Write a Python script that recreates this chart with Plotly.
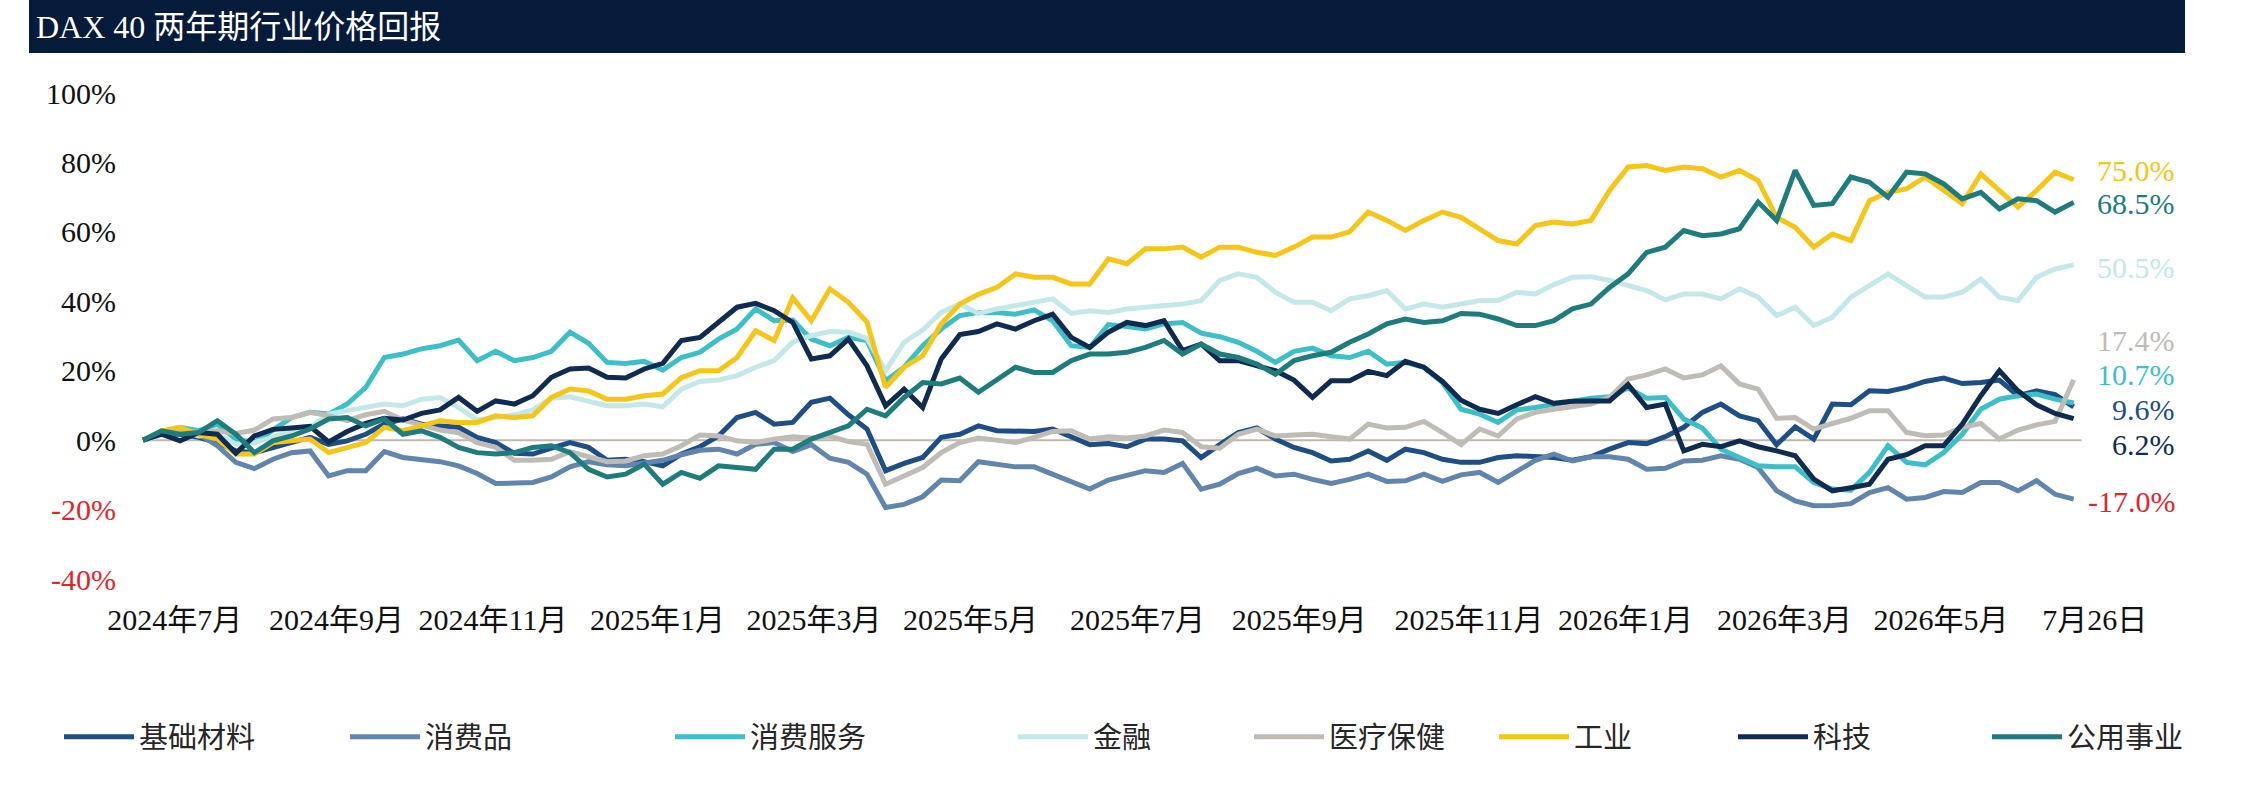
import pandas as pd
import plotly.graph_objects as go

# ---------------- data (percent price return, weekly) ----------------
START_DATE = "2024-07-26"
N_POINTS = 105

NAMES = ["基础材料", "消费品", "消费服务", "金融", "医疗保健", "工业", "科技", "公用事业"]

basic_materials = [
    0, 1.7, 1.7, 0.8, -0.7, -3.1, -3.6, -2.1, -0.7, 0.8, -1.2, -0.2, 1.7, 4.6, 6.1, 4.6, 4.1, 3.7,
    0.8, -0.7, -3.8, -4, -2.3, -0.7, -2.1, -5.8, -5.5, -6.2, -7.4, -4, -1.9, 1.2, 6.5, 8, 4.6,
    5.1, 10.9, 12.1, 7.3, 3.2, -8.8, -6.7, -5, 0.8, 1.7, 4.1, 2.7, 2.7, 2.5, 3.2, 1, -1.3,
    -1, -1.9, 0.3, 0.3, -0.2, -5, -1.3, 2.2, 3.5, 0.3, -2.1, -3.6, -6, -5.5, -3.1, -5.8, -2.6, -3.6,
    -5.5, -6.4, -6.4, -5, -4.5, -4.8, -5, -5.8, -4.8, -2.6, -0.7, -1, 1, 3.7, 8, 10.4, 7,
    5.6, -1.3, 3.8, 0.3, 10.4, 10.2, 14.2, 14, 15.2, 16.9, 17.9, 16.3, 16.6, 17.3, 12.8, 14.2, 13.1, 9.6,
]
consumer_goods = [
    0, 1.7, 2.2, 1.7, -1.6, -6.4, -8.2, -5.5, -3.6, -3.1, -10.3, -8.8, -8.8, -3.3, -5, -5.5, -6.2, -7.4,
    -9.6, -12.5, -12.2, -12.2, -10.6, -7.7, -6.2, -7.1, -7.4, -6.5, -5.8, -4.2, -2.9, -2.6, -4, -1.2, -0.7,
    -3.3, -1.3, -5.2, -6.4, -9.8, -19.4, -18.5, -16.3, -11.5, -11.7, -6.2, -6.9, -7.7, -7.7, -9.8, -11.7, -14.1,
    -11.5, -10.3, -8.8, -9.3, -6.7, -14.1, -12.7, -9.6, -8.1, -10.3, -9.8, -11.3, -12.5, -11.3, -9.8, -11.9, -11.7, -9.8,
    -11.9, -10, -9.3, -12.2, -8.8, -5.8, -4, -6, -4.8, -4.8, -5.5, -8.4, -8.1, -6, -5.8, -4.5, -5.5,
    -7.9, -14.6, -17.5, -18.9, -18.8, -18.3, -15.1, -13.7, -17, -16.5, -14.8, -15.1, -12.2, -12.2, -14.6, -11.7, -15.6, -17.0,
]
consumer_services = [
    0, 2.2, 3.7, 2.7, 4.6, 0.3, -0.7, 2.7, 6.5, 8, 7.5, 10.4, 15.2, 23.8, 24.8, 26.3, 27.2, 28.8,
    22.9, 25.6, 22.9, 23.8, 25.6, 31.1, 27.9, 22.4, 22.1, 22.7, 20.2, 23.8, 25.3, 29.1, 32, 37.8, 34.4,
    34.6, 29.1, 27.2, 29.6, 28.7, 17.1, 21, 27.2, 32, 35.9, 36.8, 36.8, 36.3, 37.5, 34.4, 27.2, 26.7,
    33.3, 32.7, 32, 33.5, 33.9, 30.8, 29.8, 28.2, 25.6, 22.4, 25.6, 26.5, 24.3, 23.8, 25.6, 21.9, 22.4, 21,
    16.6, 8.9, 7.5, 5.1, 8.7, 9.4, 10.2, 11.3, 12.1, 12.5, 15, 12.1, 12.3, 6.1, 3.5, -2.6, -5,
    -7.4, -7.7, -7.7, -12.2, -14.1, -14.4, -9.3, -1.6, -6.4, -7.1, -3.6, 1.7, 8.9, 11.8, 12.8, 13.3, 11.8, 10.7,
]
financials = [
    0, 1.2, 2.7, 1.2, 1.7, -1.2, -0.7, 0.8, 2.7, 3.7, 7.5, 8.5, 9.4, 10.4, 9.9, 11.8, 12.3, 9.4,
    5.8, 6.7, 7.3, 8.7, 12.1, 12.5, 11.3, 9.9, 9.9, 10.4, 9.6, 14.7, 16.9, 17.3, 18.6, 21, 22.9,
    28.2, 30.1, 31.3, 31.1, 29.3, 20, 28.2, 31.7, 36.8, 39.2, 36.5, 37.8, 38.8, 39.7, 40.7, 36.5, 37.3,
    36.8, 37.8, 38.3, 38.8, 39.2, 40.2, 46, 47.9, 46.9, 42.6, 39.7, 39.7, 37.3, 40.7, 41.6, 43.1, 37.8, 39.2,
    38.3, 39.2, 40.2, 40.2, 42.6, 42.1, 44.8, 46.9, 47.1, 46, 44.5, 43.1, 40.4, 42.1, 42.1, 40.7, 43.6,
    41.2, 35.9, 38.3, 33, 35.4, 41.2, 44.5, 47.9, 44.5, 41.2, 41.2, 42.6, 46.4, 41.2, 40.2, 46.9, 49.3, 50.5,
]
healthcare = [
    0, 1.7, 2.7, 2.2, 2.7, 1.9, 2.9, 6.1, 6.5, 8, 7, 5.6, 7.3, 8.3, 5.8, 4.4, 2.9, 2.1,
    -0.7, -2.1, -5.8, -5.8, -5.5, -3.3, -4.8, -6.2, -6, -4.5, -4, -1.6, 1.5, 1.2, -0.2, -0.7, 0.3,
    1, 0.6, 1.2, -0.4, -1.2, -12.7, -10.3, -7.9, -3.6, -0.7, 0.6, 0, -0.7, 0.8, 2.5, 2.7, 0.3,
    1, 0.6, 1.2, 2.9, 2.2, -1.9, -2.3, 1.7, 3.2, 1.2, 1.5, 1.7, 1, 0.3, 4.6, 3.5, 3.7, 5.4,
    2.2, -1.3, 3.2, 1.2, 6.1, 8, 8.9, 9.7, 10.4, 12.3, 17.6, 18.8, 20.5, 17.9, 18.8, 21.4, 16.2,
    14.7, 6.3, 6.5, 3.2, 4.8, 6.3, 8.5, 8.5, 2.2, 1.3, 1.5, 3.7, 4.8, 0.3, 2.9, 4.4, 5.4, 17.4,
]
industrials = [
    0, 2.7, 3.7, 1.7, 0.3, -4, -4, -0.7, -0.2, 0.3, -3.6, -2, -0.7, 3.7, 2.7, 4.1, 5.6, 5.1,
    5.1, 7, 6.5, 7, 12.3, 14.7, 14.2, 11.8, 11.8, 12.8, 13.3, 18, 20, 20, 23.8, 31.5, 28.7,
    41, 34.4, 43.6, 39.7, 34, 15.2, 21, 24.3, 33.5, 39.2, 42, 44, 47.9, 46.9, 46.9, 45, 45,
    52.2, 50.8, 55.1, 55.1, 55.6, 52.7, 55.6, 55.6, 54.1, 53.2, 55.6, 58.5, 58.5, 60, 65.7, 63.3, 60.4, 63.3,
    65.7, 64.2, 60.9, 57.5, 56.5, 61.8, 62.8, 62.3, 63.3, 71.9, 78.7, 79.1, 77.7, 78.7, 78.2, 75.8, 77.7,
    74.8, 64.2, 61.3, 55.6, 59.4, 57.5, 69, 71.4, 72.4, 75.8, 71.9, 68.1, 76.7, 71.9, 67.1, 71.9, 77.2, 75.0,
]
technology = [
    0, 1.7, -0.2, 2.2, 1.7, -3.8, 1.2, 3.1, 3.5, 4, -0.5, 2.5, 4.8, 6.3, 5.8, 7.7, 8.7, 12.3,
    8.3, 11.3, 10.4, 12.8, 18.1, 20.5, 20.8, 18.1, 17.9, 20.5, 22.1, 28.7, 29.6, 33.9, 38.3, 39.4, 37.3,
    33.9, 23.4, 24.3, 29.1, 21.4, 9.9, 14.7, 9.4, 23.4, 30.4, 31.3, 33.5, 32, 34.4, 36.3, 29.6, 26.7,
    31.1, 33.9, 33, 34.4, 25.8, 27.7, 22.9, 22.9, 21.4, 20, 17.3, 12.3, 17.1, 17.1, 19.8, 18.6, 22.7, 21,
    16.9, 11.5, 8.9, 7.7, 10.2, 12.5, 10.6, 11.2, 11.3, 11.3, 16, 9.4, 10.4, -3.1, -1.2, -1.9, -0.2,
    -1.9, -3.1, -4.5, -11.2, -14.6, -13.7, -12.7, -5.5, -4.2, -1.6, -1.6, 4.6, 12.8, 20, 14.2, 10.2, 7.7, 6.2,
]
utilities = [
    0, 2.7, 1.7, 2.2, 5.6, 1.7, -3.6, -0.2, 1.2, 3.2, 6.1, 6.5, 4.1, 6.1, 1.7, 2.7, 0.8, -2.1,
    -3.6, -4, -3.6, -2.1, -1.6, -3.6, -8.4, -10.6, -9.8, -6.9, -12.7, -9.3, -11, -7.4, -7.9, -8.4, -2.6,
    -2.6, 0.3, 2.2, 4.1, 8.9, 7, 12.3, 16.6, 16.2, 17.9, 13.8, 17.6, 21, 19.5, 19.5, 22.9, 24.8,
    24.8, 25.3, 26.7, 28.7, 24.8, 27.7, 24.8, 23.8, 21.9, 19, 22.9, 24.3, 25.3, 28.2, 30.6, 33.5, 34.9, 33.9,
    34.4, 36.5, 36.3, 34.9, 33, 33, 34.4, 37.8, 39.2, 44, 47.9, 54.1, 55.6, 60.4, 58.9, 59.4, 60.9,
    68.6, 63.3, 77.7, 67.6, 68.1, 75.8, 74.3, 70, 77.2, 76.7, 73.8, 69.5, 71.4, 66.6, 69.5, 69, 65.7, 68.5,
]

SERIES = [basic_materials, consumer_goods, consumer_services, financials,
          healthcare, industrials, technology, utilities]

Y_TICKS = [100, 80, 60, 40, 20, 0, -20, -40]
X_TICK_LABELS = ["2024年7月", "2024年9月", "2024年11月", "2025年1月", "2025年3月", "2025年5月",
                 "2025年7月", "2025年9月", "2025年11月", "2026年1月", "2026年3月", "2026年5月", "7月26日"]

# ---------------- styling / layout ----------------
COLORS = ["#1f4e84", "#6285ac", "#3dbfc8", "#c4e8e8", "#bfbcb5", "#f5c518", "#0f2b4f", "#1e7c7c"]
NEG_RED = "#e3242b"
SERIF = "Liberation Serif, Noto Sans CJK SC"
SANS_CJK = "Noto Sans CJK SC, Noto Sans"

W, H = 2244, 801
ML, MR, MT, MB = 137, 134, 93, 222
PW, PH = W - ML - MR, H - MT - MB
PX_PER_DAY = 2.652

X_TICK_DATES = ["2024-08-07", "2024-10-07", "2024-12-05", "2025-02-05", "2025-04-05", "2025-06-03",
                "2025-08-05", "2025-10-05", "2025-12-08", "2026-02-05", "2026-04-06", "2026-06-04",
                "2026-08-01"]
LABEL_Y = [8.8, -17.8, 18.8, 49.8, 28.8, 77.7, -1.2, 68.1]
LEGEND_X_PX = [64, 350, 675, 1018, 1254, 1499, 1738, 1992]
LEGEND_Y_PX = 737

dates = pd.date_range(START_DATE, periods=N_POINTS, freq="7D")
x_start = dates[0] - pd.Timedelta(days=(143 - ML) / PX_PER_DAY)
x_end = x_start + pd.Timedelta(days=PW / PX_PER_DAY)


def pxx(px):
    return (px - ML) / PW


def pxy(py):
    return (H - MB - py) / PH


fig = go.Figure()
for i, (name, vals, col) in enumerate(zip(NAMES, SERIES, COLORS)):
    fig.add_trace(go.Scatter(
        x=dates, y=vals, name=name, mode="lines",
        line=dict(color=col, width=5),
        legend="legend" if i == 0 else f"legend{i + 1}",
        hoverinfo="skip",
    ))

# zero line
fig.add_shape(type="line", xref="x", yref="y", x0=dates[0], x1=dates[-1] + pd.Timedelta(days=3),
              y0=0, y1=0, line=dict(color="#bdb9b1", width=2), layer="below")

# title bar
fig.add_shape(type="rect", xref="paper", yref="paper", x0=pxx(29), x1=pxx(2185),
              y0=pxy(53), y1=pxy(0), fillcolor="#061b3a", line=dict(width=0), layer="above")
fig.add_annotation(xref="paper", yref="paper", x=pxx(34), y=pxy(27), xanchor="left", yanchor="middle",
                   text="DAX 40 两年期行业价格回报", showarrow=False,
                   font=dict(family=SERIF, size=32, color="#ffffff"))

# end labels
for vals, col, ly in zip(SERIES, COLORS, LABEL_Y):
    v = vals[-1]
    fig.add_annotation(xref="paper", yref="y", x=pxx(2177), y=ly, xanchor="right", yanchor="middle",
                       text=f"{v:.1f}%", showarrow=False,
                       font=dict(family=SERIF, size=30, color=NEG_RED if v < 0 else col))

y_ticktext = [f"<span style='color:{NEG_RED}'>{t}%</span>" if t < 0 else f"{t}%" for t in Y_TICKS]

layout_legends = {}
for i, lx in enumerate(LEGEND_X_PX):
    key = "legend" if i == 0 else f"legend{i + 1}"
    layout_legends[key] = dict(
        x=(lx - 5) / W, xref="container", y=1 - LEGEND_Y_PX / H, yref="container",
        xanchor="left", yanchor="middle", orientation="h",
        font=dict(family=SANS_CJK, size=29, color="#262626"),
        itemwidth=70, bgcolor="rgba(0,0,0,0)", borderwidth=0,
    )

fig.update_layout(
    width=W, height=H,
    margin=dict(l=ML, r=MR, t=MT, b=MB, pad=0),
    paper_bgcolor="#ffffff", plot_bgcolor="#ffffff",
    showlegend=True,
    xaxis=dict(
        type="date", range=[x_start, x_end],
        tickmode="array", tickvals=X_TICK_DATES, ticktext=X_TICK_LABELS,
        showgrid=False, zeroline=False, showline=False, ticks="",
        tickfont=dict(family=SERIF, size=30, color="#111111"),
        ticklabelstandoff=20,
    ),
    yaxis=dict(
        range=[-40, 100], tickmode="array", tickvals=Y_TICKS, ticktext=y_ticktext,
        showgrid=False, zeroline=False, showline=False, ticks="",
        tickfont=dict(family=SERIF, size=30, color="#111111"),
        ticklabelstandoff=20,
    ),
    **layout_legends,
)

fig.write_html("out.html")
